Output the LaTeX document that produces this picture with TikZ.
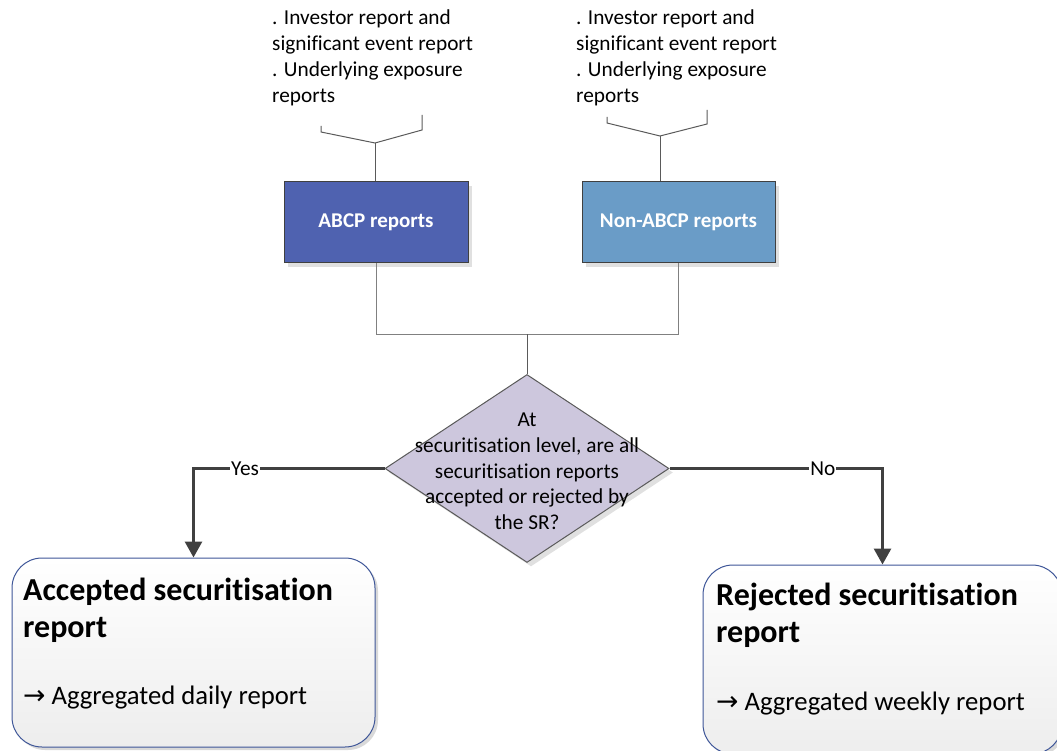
\documentclass[tikz,border=0pt]{standalone}
\usepackage{fontspec}
\setmainfont{Carlito}[Ligatures={NoCommon}]
\newfontfamily\symfont{DejaVu Sans}
\usetikzlibrary{arrows.meta,shapes.geometric,shadows}
\definecolor{abcpc}{RGB}{79,98,176}
\definecolor{nonabcpc}{RGB}{106,156,199}
\definecolor{diac}{RGB}{205,199,221}
\definecolor{arrowc}{RGB}{64,64,64}
\definecolor{boxblue}{RGB}{62,86,152}
\definecolor{linec}{RGB}{90,90,90}
\begin{document}
\begin{tikzpicture}[x=1pt,y=-1pt,
  note/.style={align=left, inner sep=0pt, font=\fontsize{21.3}{26}\selectfont, anchor=north west},
  repbox/.style={draw=black!75, line width=1pt, minimum height=81pt, inner sep=0pt,
    text=white, font=\bfseries\fontsize{21}{25}\selectfont,
    drop shadow={shadow xshift=4pt, shadow yshift=-4pt, fill=black!12, opacity=1}},
  decision/.style={diamond, draw=linec, line width=1pt, fill=diac, inner sep=0pt,
    minimum width=284pt, minimum height=188pt,
    drop shadow={shadow xshift=4pt, shadow yshift=-4pt, fill=black!12, opacity=1}},
  qtext/.style={align=center, inner sep=0pt, font=\fontsize{21.3}{25.7}\selectfont},
  resbox/.style={draw=boxblue, line width=1pt, rounded corners=30pt, top color=white,
    bottom color=black!7, minimum width=#1, minimum height=189pt, inner sep=0pt,
    drop shadow={shadow xshift=3pt, shadow yshift=-3pt, fill=black!15, opacity=1}},
  titletext/.style={align=left, inner sep=0pt, anchor=north west, font=\bfseries\fontsize{32}{37}\selectfont},
  subtext/.style={inner sep=0pt, anchor=base west, font=\fontsize{26.7}{32}\selectfont},
  thin/.style={draw=linec, line width=1pt},
  flow/.style={draw=arrowc, line width=3pt, -{Triangle[width=17pt,length=16pt]}},
  lbl/.style={fill=white, inner sep=1pt, font=\fontsize{21.3}{26}\selectfont}
]
\useasboundingbox (0,0) rectangle (1057,751);

% top notes
\node[note] (n1) at (272,10) {. Investor report and\\significant event report\\. Underlying exposure\\reports};
\node[note] (n2) at (576,10) {. Investor report and\\significant event report\\. Underlying exposure\\reports};

% report boxes
\node[repbox, fill=abcpc, minimum width=184pt] (abcp) at (376,222.5) {ABCP reports};
\node[repbox, fill=nonabcpc, minimum width=193pt] (nonabcp) at (678.5,222.5) {Non-ABCP reports};

% braces
\coordinate (b1) at (375,143);
\coordinate (b2) at (660,136);
\draw[thin] (321,126) -- (321,132) -- (b1) -- (422,130) -- (422,115);
\draw[thin] (607,117) -- (607,123) -- (b2) -- (707,124) -- (707,110);
\draw[thin] (b1) -- (b1 |- abcp.north);
\draw[thin] (b2) -- (b2 |- nonabcp.north);

% decision
\node[decision] (dia) at (527,468.5) {};
\node[qtext] (q) at (527,471.5) {At\\securitisation level, are all\\securitisation reports\\accepted or rejected by\\the SR?};

% merge
\coordinate (j) at (527,334);
\draw[thin, draw=black!50] (abcp.south) |- (j);
\draw[thin, draw=black!50] (nonabcp.south) |- (j);
\draw[thin] (j) -- (dia.north);

% results
\node[resbox=363pt] (acc) at (193.5,652.5) {};
\node[resbox=359pt] (rej) at (882.5,659.5) {};
\node[titletext] (acct) at (23,577.6) {Accepted securitisation\\report};
\node[subtext] (accs) at (23,704) {{\symfont →} Aggregated daily report};
\node[titletext] (rejt) at (716,582.6) {Rejected securitisation\\report};
\node[subtext] (rejs) at (716,710) {{\symfont →} Aggregated weekly report};

% branches
\draw[flow] (dia.west) -| node[lbl, pos=0.365] {Yes} (acc.north);
\draw[flow] (dia.east) -| node[lbl, pos=0.36] {No} (rej.north);
\end{tikzpicture}
\end{document}
